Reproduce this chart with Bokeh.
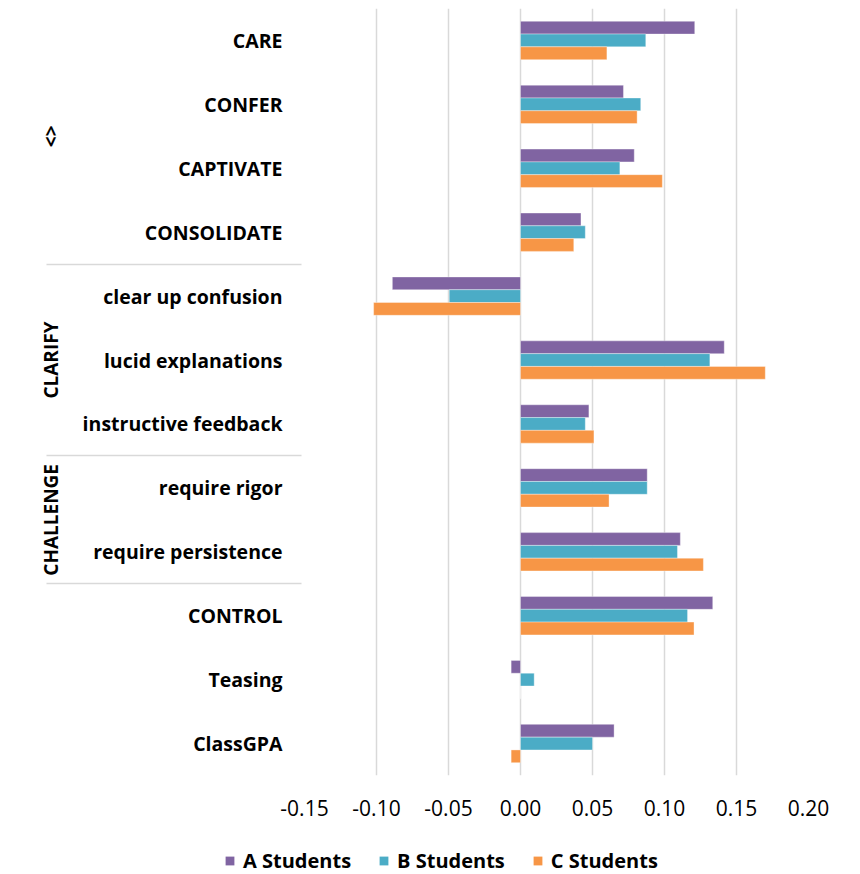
from bokeh.plotting import figure
from bokeh.layouts import column
from bokeh.models import (FactorRange, Range1d, ColumnDataSource, Legend, LegendItem,
                          FixedTicker, NumeralTickFormatter)
from bokeh.transform import dodge
from bokeh.embed import file_html
from bokeh.resources import INLINE

# ---- data (top to bottom as in the chart) ----
groups = ["<>", "<>", "<>", "<>",
          "CLARIFY", "CLARIFY", "CLARIFY",
          "CHALLENGE", "CHALLENGE",
          " ", " ", " "]
categories = ["CARE", "CONFER", "CAPTIVATE", "CONSOLIDATE",
              "clear up confusion", "lucid explanations", "instructive feedback",
              "require rigor", "require persistence",
              "CONTROL", "Teasing", "ClassGPA"]
a_students = [0.121, 0.0715, 0.079, 0.042, -0.089, 0.1415, 0.0475, 0.088, 0.111, 0.1335, -0.0065, 0.065]
b_students = [0.087, 0.0835, 0.069, 0.045, -0.0495, 0.1315, 0.045, 0.088, 0.109, 0.116, 0.0095, 0.050]
c_students = [0.060, 0.081, 0.0985, 0.037, -0.102, 0.170, 0.051, 0.0615, 0.127, 0.1205, 0.0, -0.0065]
series_names = ["A Students", "B Students", "C Students"]
series_colors = ["#8064A2", "#4BACC6", "#F79646"]
x_ticks = [-0.15, -0.10, -0.05, 0.00, 0.05, 0.10, 0.15, 0.20]

FONT = "Open Sans"

factors = [(g, c) for g, c in zip(groups, categories)][::-1]
source = ColumnDataSource(dict(
    factor=factors,
    a=a_students[::-1],
    b=b_students[::-1],
    c=c_students[::-1],
))

y_range = FactorRange(factors=factors, group_padding=0, factor_padding=0, range_padding=0)

p = figure(y_range=y_range, x_range=Range1d(x_ticks[0], x_ticks[-1]),
           width=852, height=830,
           min_border_left=304, min_border_top=8, min_border_right=44, min_border_bottom=55,
           output_backend="svg", toolbar_location=None)

renderers = []
for col, off, color in zip(["a", "b", "c"], [0.2, 0.0, -0.2], series_colors):
    r = p.hbar(y=dodge("factor", off, range=p.y_range), right=col, height=0.2,
               fill_color=color, line_color="white", line_width=0.6, line_alpha=0.6,
               source=source)
    renderers.append(r)

# x axis
p.xaxis.ticker = FixedTicker(ticks=x_ticks)
p.xaxis.formatter = NumeralTickFormatter(format="0.00")
p.xaxis.axis_line_color = None
p.xaxis.major_tick_line_color = None
p.xaxis.minor_tick_line_color = None
p.xaxis.major_label_text_font = FONT
p.xaxis.major_label_text_font_size = "21px"
p.xaxis.major_label_text_color = "black"
p.xaxis.major_label_standoff = 18

# y axis
p.yaxis.axis_line_color = None
p.yaxis.major_tick_line_color = None
p.yaxis.minor_tick_line_color = None
p.yaxis.major_label_text_font = FONT
p.yaxis.major_label_text_font_style = "bold"
p.yaxis.major_label_text_font_size = "19.5px"
p.yaxis.major_label_text_color = "black"
p.yaxis.major_label_standoff = 16
p.yaxis.group_text_font = FONT
p.yaxis.group_text_font_style = "bold"
p.yaxis.group_text_font_size = "19px"
p.yaxis.group_text_color = "black"
p.yaxis.group_label_orientation = "vertical"
p.yaxis.separator_line_color = "#d9d9d9"
p.yaxis.separator_line_width = 1.5

p.xgrid.grid_line_color = "#d9d9d9"
p.xgrid.grid_line_width = 1.5
p.ygrid.grid_line_color = None
p.outline_line_color = None

# ---- legend strip (separate small figure under the axis) ----
pl = figure(width=852, height=44, x_axis_location=None, y_axis_location=None,
            x_range=Range1d(0, 1), y_range=Range1d(0, 1),
            min_border=0, output_backend="svg", toolbar_location=None)
pl.outline_line_color = None
pl.grid.visible = False
pl.xgrid.grid_line_color = None
pl.ygrid.grid_line_color = None
pl.styles = {"margin-left": "-80px"}
leg_renderers = []
for name, color in zip(series_names, series_colors):
    # legend proxies, placed outside the visible range of the strip
    leg_renderers.append(pl.hbar(y=[-5.0], right=[-5.0], left=[-6.0], height=0.2,
                                 fill_color=color, line_color=None))

legend = Legend(items=[LegendItem(label=n, renderers=[r]) for n, r in zip(series_names, leg_renderers)],
                orientation="horizontal", location=(0, 0),
                glyph_width=11, glyph_height=11, label_standoff=8, spacing=27,
                label_text_font=FONT, label_text_font_style="bold", label_text_font_size="20px",
                label_text_color="black", border_line_color=None, background_fill_alpha=0,
                padding=0, margin=0)
pl.add_layout(legend)

layout = column(p, pl, spacing=0)
open("out.html", "w").write(file_html(layout, INLINE))
